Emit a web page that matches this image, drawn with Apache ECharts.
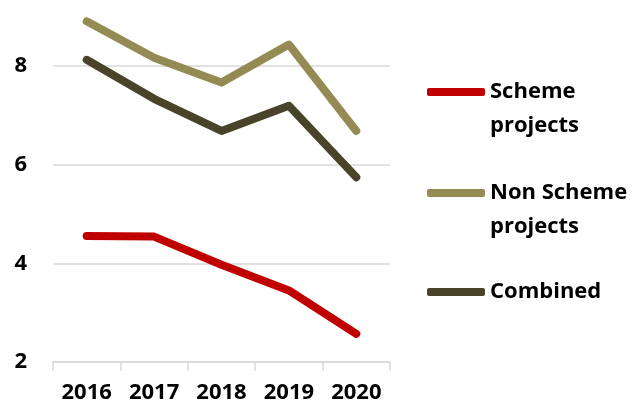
<!DOCTYPE html>
<html lang="en">
<head>
    <meta charset="UTF-8">
    <title>Scheme projects</title>
    <style>
        html, body { margin: 0; padding: 0; background: #fff; overflow: hidden; }
        /* 图表顶部被裁掉一截（10那条线在画面外） */
        #main { position: absolute; left: 0; top: -33px; width: 636px; height: 443px; }
    </style>
</head>
<body>
<div id="main"></div>
<script src="https://cdn.jsdelivr.net/npm/echarts@6/dist/echarts.min.js"></script>
<script>
    // 数据
    var years = ['2016', '2017', '2018', '2019', '2020'];
    var schemeVals = [4.55, 4.54, 3.97, 3.45, 2.57];
    var nonSchemeVals = [8.90, 8.16, 7.66, 8.43, 6.68];
    var combinedVals = [8.12, 7.33, 6.68, 7.19, 5.74];
    var yTicks = [2, 4, 6, 8, 10];

    var fontFam = '"Open Sans", "Noto Sans", sans-serif';
    var gridColor = '#d9d9d9';
    var shift = 33;

    function legendBox(name, top, text) {
        return {
            data: [name],
            left: 427,
            top: top + shift,
            padding: 0,
            orient: 'vertical',
            icon: 'roundRect',
            itemWidth: 58,
            itemHeight: 8,
            formatter: function () { return text; },
            textStyle: {
                fontFamily: fontFam,
                fontWeight: 'bold',
                fontSize: 22,
                lineHeight: 34,
                color: '#000'
            }
        };
    }

    function lineSeries(name, data, color) {
        return {
            name: name,
            type: 'line',
            data: data,
            symbol: 'none',
            color: color,
            lineStyle: { width: 8, color: color, cap: 'round', join: 'round' }
        };
    }

    var myChart = echarts.init(document.getElementById('main'));
    var option = {
        animation: false,
        grid: { left: 53, right: 246, top: 0, bottom: 48, containLabel: false, outerBoundsMode: 'none' },
        legend: [
            legendBox('Scheme projects', 41, '\nScheme\nprojects'),
            legendBox('Non Scheme projects', 142, '\nNon Scheme\nprojects'),
            legendBox('Combined', 275, 'Combined')
        ],
        xAxis: {
            type: 'category',
            data: years,
            boundaryGap: true,
            axisLine: { lineStyle: { color: gridColor, width: 1.5 } },
            axisTick: { show: true, length: 9, lineStyle: { color: gridColor, width: 1.5 } },
            splitLine: { show: false },
            axisLabel: {
                margin: 20,
                color: '#000',
                fontFamily: fontFam,
                fontWeight: 'bold',
                fontSize: 22
            }
        },
        yAxis: {
            type: 'value',
            min: yTicks[0],
            max: yTicks[yTicks.length - 1],
            interval: 2,
            axisLine: { show: false },
            axisTick: { show: false },
            splitLine: { lineStyle: { color: gridColor, width: 1.5 } },
            axisLabel: {
                margin: 26,
                color: '#000',
                fontFamily: fontFam,
                fontWeight: 'bold',
                fontSize: 22
            }
        },
        series: [
            lineSeries('Scheme projects', schemeVals, '#c00000'),
            lineSeries('Non Scheme projects', nonSchemeVals, '#948a54'),
            lineSeries('Combined', combinedVals, '#494429')
        ]
    };
    myChart.setOption(option);
</script>
</body>
</html>
